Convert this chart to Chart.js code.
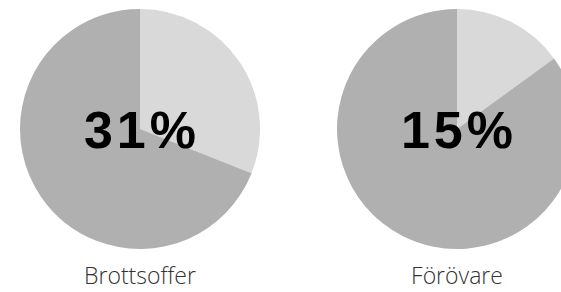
<html>
<head>
    <meta charset="utf-8">
    <script src="https://cdn.jsdelivr.net/npm/chart.js@4.4.1/dist/chart.umd.min.js" type="text/javascript"></script>
    <style>
        html, body {
            margin: 0;
            padding: 0;
            width: 561px;
            height: 292px;
            overflow: hidden;
            background: #fff;
        }
        .piebox {
            position: absolute;
            top: 9px;
            width: 240px;
            height: 240px;
        }
        .pct {
            position: absolute;
            left: 0;
            width: 240px;
            top: 95px;
            text-align: center;
            font-family: "Liberation Sans", Arial, sans-serif;
            font-weight: bold;
            font-size: 52px;
            line-height: 52px;
            letter-spacing: 4px;
            padding-left: 4px;
            box-sizing: border-box;
            color: #000;
            pointer-events: none;
        }
        .label {
            position: absolute;
            top: 262px;
            width: 240px;
            text-align: center;
            font-family: "Open Sans", sans-serif;
            font-weight: 300;
            font-size: 23px;
            line-height: 26px;
            color: #333;
        }
    </style>
</head>
<body>
    <div class="piebox" id="box0" style="left:20px"><canvas id="pie0"></canvas><div class="pct" id="pct0"></div></div>
    <div class="piebox" id="box1" style="left:337px"><canvas id="pie1"></canvas><div class="pct" id="pct1"></div></div>
    <div class="label" id="lab0" style="left:20px"></div>
    <div class="label" id="lab1" style="left:337px"></div>
    <script>
        var categories = ['Brottsoffer', 'Förövare'];
        var percentages = [31, 15];
        var pieColors = ['#d9d9d9', '#b0b0b0'];

        function makePie(i) {
            var ctx = document.getElementById('pie' + i).getContext('2d');
            document.getElementById('pct' + i).textContent = percentages[i] + '%';
            document.getElementById('lab' + i).textContent = categories[i];

            return new Chart(ctx, {
                type: 'pie',
                data: {
                    labels: [categories[i], ''],
                    datasets: [{
                        data: [percentages[i], 100 - percentages[i]],
                        backgroundColor: pieColors,
                        borderWidth: 0,
                        hoverOffset: 0
                    }]
                },
                options: {
                    responsive: true,
                    maintainAspectRatio: false,
                    animation: false,
                    events: [],
                    layout: { padding: 0 },
                    plugins: {
                        legend: { display: false },
                        tooltip: { enabled: false }
                    }
                }
            });
        }

        for (var i = 0; i < categories.length; i++) {
            makePie(i);
        }
    </script>
</body>
</html>
